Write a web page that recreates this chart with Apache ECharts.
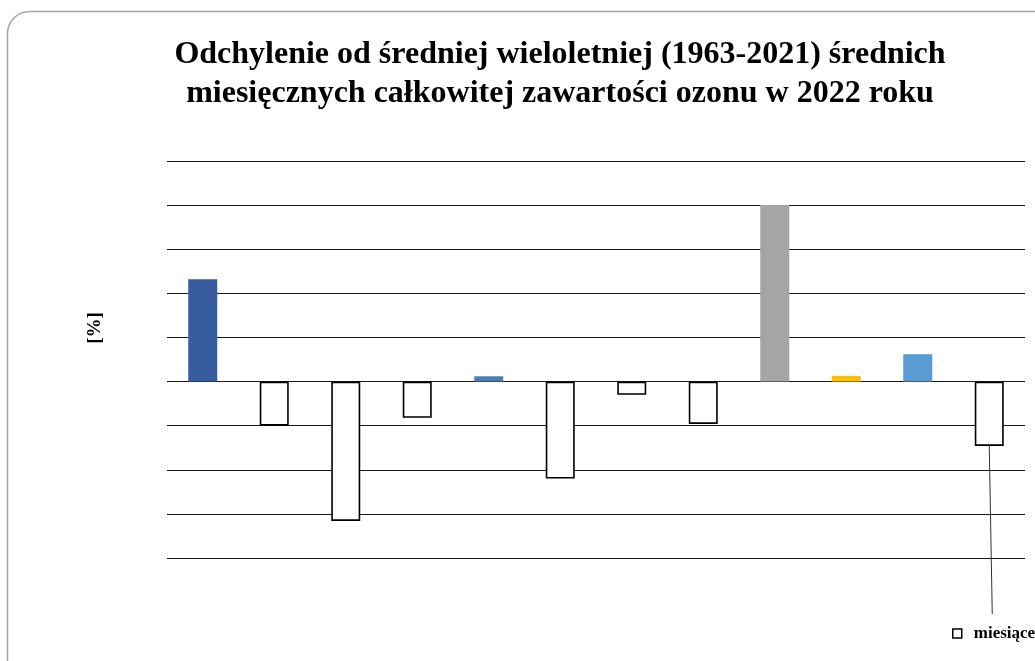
<!DOCTYPE html>
<html>
<head>
<meta charset="utf-8">
<script src="https://cdn.jsdelivr.net/npm/echarts@6/dist/echarts.min.js"></script>
<style>
  html, body { margin: 0; padding: 0; background: #fff; overflow: hidden; }
  #chart { width: 1035px; height: 661px; }
</style>
</head>
<body>
<div id="chart"></div>
<script>
// miesiące 2022 – odchylenie [%]
const months = ['I', 'II', 'III', 'IV', 'V', 'VI', 'VII', 'VIII', 'IX', 'X', 'XI', 'XII']
const deviation = [2.32, -1.0, -3.16, -0.82, 0.12, -2.2, -0.3, -0.96, 4.0, 0.13, 0.62, -1.46]
// kolory słupków (null = pusty słupek z obramowaniem)
const barColors = ['#375C9F', null, null, null, '#4A7EB4', null, null, null, '#A5A5A5', '#FFC000', '#5B9BD5', null]
const yTicks = { min: -4, max: 5, interval: 1 }

const serif = 'Liberation Serif, Times New Roman, serif'
const chart = echarts.init(document.getElementById('chart'))

const barData = deviation.map((v, i) => {
  const c = barColors[i]
  if (c) return { value: v, itemStyle: { color: c, borderWidth: 0 } }
  return { value: v }
})

chart.setOption({
  animation: false,
  title: {
    text: 'Odchylenie od średniej wieloletniej (1963-2021) średnich\nmiesięcznych całkowitej zawartości ozonu w 2022 roku',
    left: 555,
    top: 30,
    textAlign: 'center',
    textStyle: {
      fontFamily: serif,
      fontWeight: 'bold',
      fontSize: 32,
      lineHeight: 39,
      color: '#000'
    }
  },
  legend: {
    data: ['miesiące'],
    left: 947,
    top: 620,
    icon: 'rect',
    itemWidth: 9,
    itemHeight: 9,
    itemStyle: { color: '#fff', borderColor: '#000', borderWidth: 1.5 },
    textStyle: { fontFamily: serif, fontWeight: 'bold', fontSize: 17, color: '#000', padding: [0, 0, 0, 7] }
  },
  grid: { left: 167, right: 10, top: 161, bottom: 103 },
  xAxis: {
    type: 'category',
    data: months,
    axisLine: { show: false },
    axisTick: { show: false },
    axisLabel: { show: false }
  },
  yAxis: {
    type: 'value',
    min: yTicks.min,
    max: yTicks.max,
    interval: yTicks.interval,
    axisLine: { show: false },
    axisTick: { show: false },
    axisLabel: { show: false },
    splitLine: { lineStyle: { color: '#1a1a1a', width: 1.2 } }
  },
  series: [{
    name: 'miesiące',
    type: 'bar',
    barWidth: 29,
    itemStyle: { color: '#fff', borderColor: '#000', borderWidth: 1.6 },
    data: barData
  }]
})

// ramka wykresu, opis osi i linia odnośnika od ostatniego słupka do legendy
const last = months.length - 1
const p = chart.convertToPixel({ seriesIndex: 0 }, [last, deviation[last]])
chart.setOption({
  graphic: [
    {
      type: 'rect',
      silent: true,
      z: -1,
      shape: { x: 7.5, y: 11.5, width: 1100, height: 720, r: 22 },
      style: { fill: null, stroke: '#a6a6a6', lineWidth: 1.5 }
    },
    {
      type: 'text',
      x: 95,
      y: 328,
      rotation: Math.PI / 2,
      style: {
        text: '[%]',
        font: 'bold 19px ' + serif,
        fill: '#000',
        align: 'center',
        verticalAlign: 'middle'
      }
    },
    {
      type: 'line',
      silent: true,
      shape: { x1: p[0], y1: p[1], x2: p[0] + 3, y2: 614 },
      style: { stroke: '#333', lineWidth: 1 }
    }
  ]
})
</script>
</body>
</html>
